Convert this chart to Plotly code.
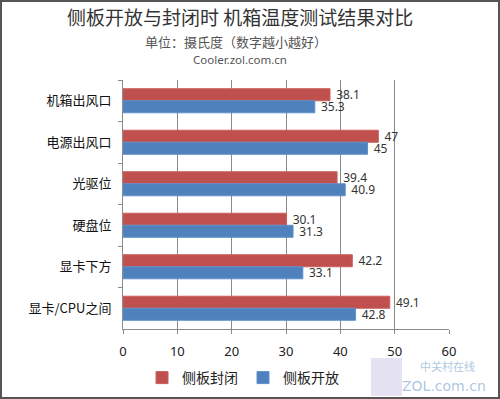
import plotly.graph_objects as go

categories = ["机箱出风口", "电源出风口", "光驱位", "硬盘位", "显卡下方", "显卡/CPU之间"]
closed_vals = [38.1, 47, 39.4, 30.1, 42.2, 49.1]
open_vals = [35.3, 45, 40.9, 31.3, 33.1, 42.8]
x_ticks = [0, 10, 20, 30, 40, 50, 60]

FONT = "Noto Sans CJK SC"
L, R, T, B = 123, 51, 80, 70
W, H = 500, 399
pw, ph = W - L - R, H - T - B

def px(x):
    return (x - L) / pw

def py(y):
    return (H - B - y) / ph

PAD = "\u00a0"

fig = go.Figure()
fig.add_trace(go.Bar(
    y=categories, x=closed_vals, orientation="h", name="侧板封闭",
    marker=dict(color="#C0504D", line=dict(color="#C9605D", width=1)),
    text=[PAD + str(v) for v in closed_vals], textposition="outside", constraintext="none",
    textfont=dict(size=12, color="#333333", family="Noto Sans"), cliponaxis=False,
))
fig.add_trace(go.Bar(
    y=categories, x=open_vals, orientation="h", name="侧板开放",
    marker=dict(color="#4F81BD", line=dict(color="#5F91CD", width=1)),
    text=[PAD + str(v) for v in open_vals], textposition="outside", constraintext="none",
    textfont=dict(size=12, color="#333333", family="Noto Sans"), cliponaxis=False,
))

fig.update_layout(
    width=W, height=H,
    margin=dict(l=L, r=R, t=T, b=B, autoexpand=False),
    paper_bgcolor="white", plot_bgcolor="white",
    barmode="group", bargap=0.42, bargroupgap=0,
    font=dict(family=FONT, color="#222222"),
    showlegend=True,
    legend=dict(orientation="h", x=px(243), xanchor="center", y=py(378), yanchor="middle",
                font=dict(size=14, color="#222222", family=FONT), traceorder="normal",
                itemwidth=30),
    xaxis=dict(range=[0, 60], tickvals=x_ticks, showgrid=True, gridcolor="#8a8a8a", gridwidth=1,
               zeroline=False, showline=True, linecolor="#8a8a8a", ticks="outside", ticklen=4,
               tickcolor="#8a8a8a", automargin=False, ticklabelstandoff=6,
               tickfont=dict(size=13, color="#222222", family="Noto Sans")),
    yaxis=dict(autorange="reversed", showline=True, linecolor="#8a8a8a", ticks="outside",
               ticklen=4, tickcolor="#8a8a8a", tickson="boundaries", showgrid=False, automargin=False,
               ticklabelstandoff=8,
               tickfont=dict(size=13, color="#111111", family=FONT)),
    annotations=[
        dict(text="侧板开放与封闭时 机箱温度测试结果对比", x=px(240), y=py(17), xref="paper", yref="paper",
             showarrow=False, font=dict(size=19, color="#333333", family=FONT), xanchor="center", yanchor="middle"),
        dict(text="单位：摄氏度（数字越小越好）", x=px(236), y=py(41), xref="paper", yref="paper",
             showarrow=False, font=dict(size=13, color="#555555", family=FONT), xanchor="center", yanchor="middle"),
        dict(text="Cooler.zol.com.cn", x=px(240), y=py(60), xref="paper", yref="paper",
             showarrow=False, font=dict(size=11.5, color="#555555", family="Noto Sans"), xanchor="center", yanchor="middle"),
        dict(text="中关村在线", x=px(447), y=py(366), xref="paper", yref="paper",
             showarrow=False, font=dict(size=11, color="rgba(100,150,200,0.55)", family=FONT), xanchor="center", yanchor="middle"),
        dict(text="ZOL.com.cn", x=px(444), y=py(386), xref="paper", yref="paper",
             showarrow=False, font=dict(size=14, color="rgba(100,150,200,0.55)", family="DejaVu Sans"), xanchor="center", yanchor="middle"),
    ],
    shapes=[
        dict(type="rect", xref="paper", yref="paper", x0=px(1), x1=px(499), y0=py(398), y1=py(1),
             line=dict(color="#555555", width=2), fillcolor="rgba(0,0,0,0)", layer="above"),
        dict(type="rect", xref="paper", yref="paper", x0=px(371), x1=px(402), y0=py(396), y1=py(358),
             line=dict(width=0), fillcolor="rgba(170,160,220,0.3)", layer="below"),
    ],
)

fig.write_html("out.html", config={"displayModeBar": False},
               post_script="document.body.style.margin='0';document.body.style.padding='0';")
